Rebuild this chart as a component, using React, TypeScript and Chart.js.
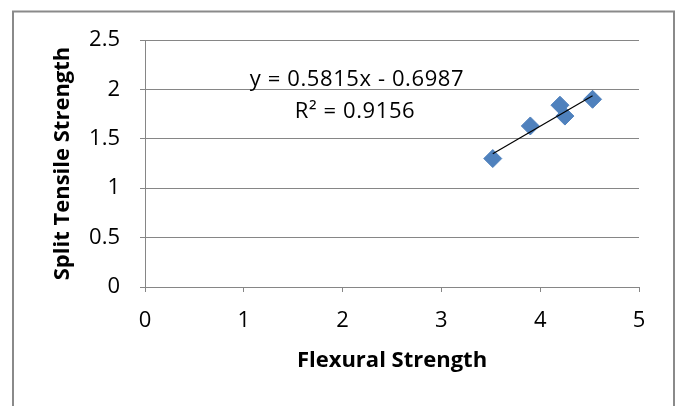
import React, { useEffect, useRef } from "react";
import { Chart, registerables } from "chart.js";

Chart.register(...registerables);

// ---- Data ----
const flexuralStrength = [3.52, 3.9, 4.2, 4.25, 4.53];
const splitTensileStrength = [1.3, 1.63, 1.84, 1.73, 1.9];
const trendSlope = 0.5815;
const trendIntercept = -0.6987;
const equationLines = ["y = 0.5815x - 0.6987", "R² = 0.9156"];
const xTitle = "Flexural Strength";
const yTitle = "Split Tensile Strength";
const xRange = [0, 5];
const yRange = [0, 2.5];
const xStep = 1;
const yStep = 0.5;

const FONT = '"Open Sans", "Liberation Sans", sans-serif';
const GRID = "#868686";
const MARKER = "#4F81BD";

const framePlugin = {
  id: "frame",
  beforeDraw(chart: any) {
    const { ctx, width, height } = chart;
    ctx.save();
    ctx.fillStyle = "#ffffff";
    ctx.fillRect(0, 0, width, height);
    ctx.strokeStyle = "#8a8a8a";
    ctx.lineWidth = 2;
    ctx.strokeRect(13, 11.5, 661, 420);
    ctx.restore();
  },
  afterDraw(chart: any) {
    const { ctx, chartArea } = chart;
    ctx.save();
    ctx.fillStyle = "#000000";
    ctx.font = `22px ${FONT}`;
    ctx.textAlign = "center";
    ctx.textBaseline = "alphabetic";
    try { (ctx as any).letterSpacing = "0.6px"; } catch (e) {}
    ctx.fillText(equationLines[0], chartArea.left + 212, chartArea.top + 46);
    ctx.fillText(equationLines[1], chartArea.left + 210, chartArea.top + 78);
    ctx.restore();
  },
};

export default function App() {
  const ref = useRef<HTMLCanvasElement>(null);

  useEffect(() => {
    const canvas = ref.current;
    if (!canvas) return;
    const points = flexuralStrength.map((x, i) => ({ x, y: splitTensileStrength[i] }));
    const xMin = Math.min(...flexuralStrength);
    const xMax = Math.max(...flexuralStrength);
    const trend = [
      { x: xMin, y: trendSlope * xMin + trendIntercept },
      { x: xMax, y: trendSlope * xMax + trendIntercept },
    ];

    const chart = new Chart(canvas, {
      type: "scatter",
      data: {
        datasets: [
          {
            label: "Trendline",
            data: trend,
            showLine: true,
            borderColor: "#000000",
            borderWidth: 1.2,
            pointRadius: 0,
            order: 0,
          } as any,
          {
            label: "Split Tensile Strength",
            data: points,
            pointStyle: "rectRot",
            pointRadius: 9,
            backgroundColor: MARKER,
            borderColor: MARKER,
            borderWidth: 1,
            order: 1,
          } as any,
        ],
      },
      options: {
        responsive: false,
        animation: false,
        events: [],
        layout: { padding: { left: 40, right: 39, top: 40, bottom: 0 } },
        plugins: {
          legend: { display: false },
          tooltip: { enabled: false },
        },
        scales: {
          x: {
            type: "linear",
            min: xRange[0],
            max: xRange[1],
            afterFit: (s: any) => { s.height = 119; },
            ticks: {
              stepSize: xStep,
              color: "#000000",
              padding: 16,
              font: { family: FONT, size: 22 },
              callback: (v: any) => String(v),
            },
            grid: {
              drawOnChartArea: false,
              drawTicks: true,
              tickLength: 5,
              color: GRID,
              lineWidth: 1,
            },
            border: { display: true, color: GRID, width: 1 },
            title: {
              display: true,
              text: xTitle,
              color: "#000000",
              font: { family: FONT, size: 22, weight: "bold" },
              padding: { top: 0, bottom: 32 },
            },
          },
          y: {
            type: "linear",
            min: yRange[0],
            max: yRange[1],
            afterFit: (s: any) => { s.width = 105; },
            ticks: {
              stepSize: yStep,
              color: "#000000",
              padding: 20,
              font: { family: FONT, size: 22 },
              callback: (v: any) => String(v),
            },
            grid: {
              drawOnChartArea: true,
              drawTicks: true,
              tickLength: 5,
              color: GRID,
              lineWidth: 1,
            },
            border: { display: true, color: GRID, width: 1 },
            title: {
              display: true,
              text: yTitle,
              color: "#000000",
              font: { family: FONT, size: 22, weight: "bold" },
              padding: { top: 10, bottom: 0 },
            },
          },
        },
      },
      plugins: [framePlugin],
    } as any);

    return () => chart.destroy();
  }, []);

  return (
    <div style={{ position: "fixed", left: 0, top: 0, width: 678, height: 406, background: "#fff" }}>
      <canvas ref={ref} width={678} height={406} style={{ display: "block", width: 678, height: 406 }} />
    </div>
  );
}
